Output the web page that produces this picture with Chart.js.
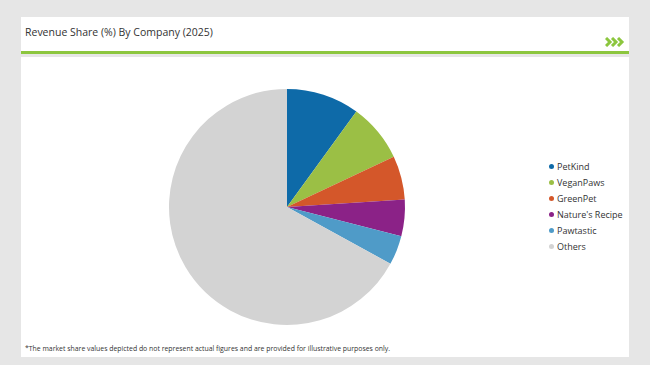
<!DOCTYPE html>
<html>
<head>
<meta charset="utf-8">
<script src="https://cdn.jsdelivr.net/npm/chart.js@4"></script>
<style>
  html, body { margin: 0; padding: 0; }
  body { width: 650px; height: 365px; background: #e6e6e6; position: relative; overflow: hidden; font-family: "Open Sans", "Noto Sans", sans-serif; }
  .header { position: absolute; left: 21px; top: 17px; width: 608px; height: 34px; background: #fff; }
  .header .title { position: absolute; left: 4px; top: 8px; font-size: 10.5px; color: #333; }
  .header svg { position: absolute; right: 4px; top: 20px; }
  .rule { position: absolute; left: 21px; top: 51px; width: 608px; height: 3px; background: #8cc63e; }
  .body { position: absolute; left: 21px; top: 57px; width: 608px; height: 300px; background: #fff; }
  .note { position: absolute; left: 25px; top: 344px; font-size: 6.9px; color: #333; }
  #pieWrap { position: absolute; left: 167px; top: 87px; width: 240px; height: 240px; }
  #legend { position: absolute; left: 549px; top: 160px; }
  #legend div { height: 16px; line-height: 14px; font-size: 9px; color: #333; white-space: nowrap; }
  #legend span { display: inline-block; width: 5px; height: 5px; border-radius: 50%; margin-right: 3px; vertical-align: 1px; }
</style>
</head>
<body>
<div class="header">
  <div class="title">Revenue Share (%) By Company (2025)</div>
  <svg width="20" height="10" viewBox="0 0 20 10">
    <polyline points="1,1 5,5 1,9" fill="none" stroke="#8cc63e" stroke-width="3"/>
    <polyline points="7,1 11,5 7,9" fill="none" stroke="#8cc63e" stroke-width="3"/>
    <polyline points="13,1 17,5 13,9" fill="none" stroke="#8cc63e" stroke-width="3"/>
  </svg>
</div>
<div class="rule"></div>
<div class="body"></div>
<div class="note">*The market share values depicted do not represent actual figures and are provided for illustrative purposes only.</div>
<div id="pieWrap"><canvas id="pie"></canvas></div>
<div id="legend"></div>
<script>
// Chart data
const companies = ['PetKind', 'VeganPaws', 'GreenPet', "Nature's Recipe", 'Pawtastic', 'Others'];
const shares = [10, 8, 6, 5, 4, 67];
const colors = ['#0e6aa8', '#9bbf45', '#d4572a', '#8b2287', '#4f9bc8', '#d3d3d3'];

// Build legend
const legendEl = document.getElementById('legend');
companies.forEach((name, i) => {
  const row = document.createElement('div');
  row.innerHTML = `<span style="background:${colors[i]}"></span>${name}`;
  legendEl.appendChild(row);
});

// Pie chart
const ctx = document.getElementById('pie').getContext('2d');
new Chart(ctx, {
  type: 'pie',
  data: {
    labels: companies,
    datasets: [{
      data: shares,
      backgroundColor: colors,
      borderWidth: 0
    }]
  },
  options: {
    responsive: true,
    maintainAspectRatio: false,
    animation: false,
    layout: { padding: 2 },
    plugins: {
      legend: { display: false },
      tooltip: { enabled: false }
    }
  }
});
</script>
</body>
</html>
